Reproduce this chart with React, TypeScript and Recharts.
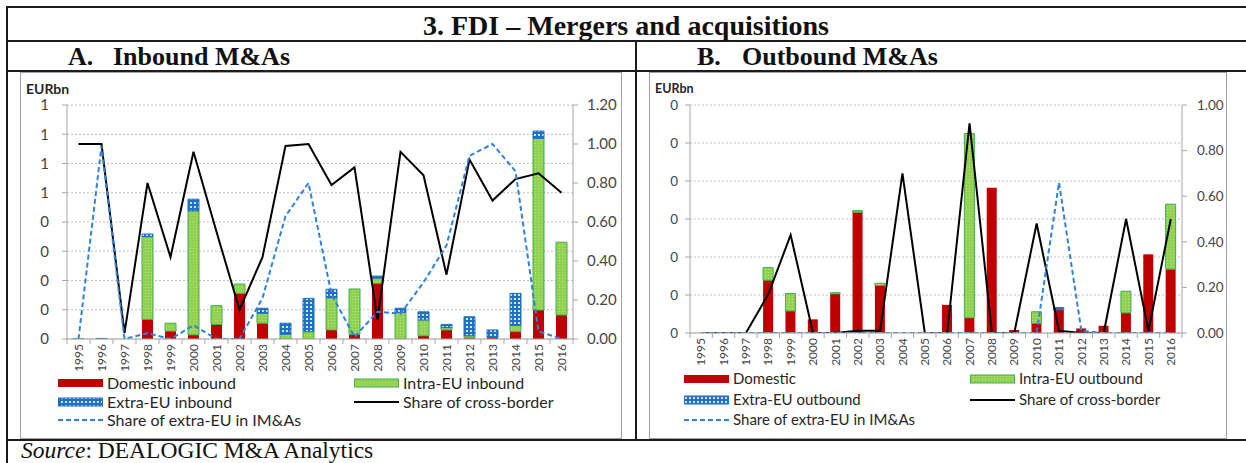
import React from "react";
import { ComposedChart, Bar, Line, XAxis, YAxis, CartesianGrid } from "recharts";

const YEARS = [
  "1995", "1996", "1997", "1998", "1999", "2000", "2001", "2002", "2003", "2004", "2005",
  "2006", "2007", "2008", "2009", "2010", "2011", "2012", "2013", "2014", "2015", "2016",
];

// A. Inbound M&As
const IN_DOMESTIC = [0, 0, 0, 0.67, 0.27, 0.14, 0.5, 1.56, 0.54, 0, 0, 0.31, 0.16, 1.9, 0, 0.11, 0.31, 0.04, 0.05, 0.25, 0.99, 0.82];
const IN_INTRA = [0.02, 0, 0, 2.83, 0.27, 4.24, 0.64, 0.32, 0.34, 0.16, 0.25, 1.1, 1.55, 0.18, 0.91, 0.54, 0.08, 0.07, 0, 0.21, 5.87, 2.49];
const IN_EXTRA = [0, 0.02, 0, 0.09, 0, 0.4, 0, 0, 0.17, 0.38, 1.14, 0.29, 0, 0.07, 0.14, 0.28, 0.11, 0.65, 0.26, 1.1, 0.25, 0];
const IN_CROSS = [1.0, 1.0, 0.03, 0.8, 0.42, 0.96, 0.55, 0.15, 0.42, 0.99, 1.0, 0.79, 0.88, 0.1, 0.96, 0.84, 0.33, 0.92, 0.71, 0.82, 0.85, 0.75];
const IN_EXTRA_SHARE = [0, 0.99, 0, 0.03, 0, 0.07, 0, 0, 0.21, 0.63, 0.8, 0.23, 0.01, 0.14, 0.13, 0.29, 0.48, 0.94, 1.0, 0.86, 0.04, 0];
const IN_LEFT_LABELS = ["0", "0", "0", "0", "0", "1", "1", "1", "1"];
const IN_RIGHT_TICKS = [0, 0.2, 0.4, 0.6, 0.8, 1.0, 1.2];

// B. Outbound M&As
const OUT_DOMESTIC = [0, 0, 0, 1.39, 0.58, 0.36, 1.03, 3.18, 1.25, 0, 0, 0.74, 0.4, 3.82, 0.08, 0.25, 0.61, 0.12, 0.19, 0.53, 2.07, 1.68];
const OUT_INTRA = [0, 0, 0, 0.33, 0.46, 0, 0.03, 0.04, 0.06, 0, 0, 0, 4.85, 0, 0, 0.31, 0, 0, 0, 0.57, 0, 1.71];
const OUT_EXTRA = [0, 0, 0, 0, 0, 0, 0, 0, 0, 0, 0, 0, 0, 0, 0, 0, 0.06, 0, 0, 0, 0, 0];
const OUT_CROSS = [0, 0, 0, 0.17, 0.43, 0, 0, 0.01, 0.01, 0.7, 0, 0, 0.92, 0, 0, 0.48, 0.01, 0, 0, 0.5, 0.01, 0.5];
const OUT_EXTRA_SHARE = [0, 0, 0, 0, 0, 0, 0, 0, 0, 0, 0, 0, 0, 0, 0, 0, 0.66, 0.01, 0, 0, 0, 0];
const OUT_LEFT_LABELS = ["0", "0", "0", "0", "0", "0", "0"];
const OUT_RIGHT_TICKS = [0, 0.2, 0.4, 0.6, 0.8, 1.0];

const RED = "#c00000";
const GREEN = "#92d050";
const GREEN_EDGE = "#3cb04a";
const BLUE = "#1f6fc4";
const DASH_BLUE = "#2e83d9";
const AXIS = "#a6a6a6";
const GRID = "#bfbfbf";
const TICK_TEXT = "#454545";
const FRAME = "#1c1c1c";
const FONT = "Lato, 'Noto Sans', sans-serif";
const SERIF = "'Liberation Serif', 'Times New Roman', serif";

interface Row {
  year: string;
  domestic: number;
  intra: number;
  extra: number;
  cross: number;
  share: number;
}

function buildRows(dom: number[], intra: number[], extra: number[], cross: number[], share: number[]): Row[] {
  return YEARS.map((year, i) => ({
    year,
    domestic: dom[i],
    intra: intra[i],
    extra: extra[i],
    cross: cross[i],
    share: share[i],
  }));
}

const inboundRows = buildRows(IN_DOMESTIC, IN_INTRA, IN_EXTRA, IN_CROSS, IN_EXTRA_SHARE);
const outboundRows = buildRows(OUT_DOMESTIC, OUT_INTRA, OUT_EXTRA, OUT_CROSS, OUT_EXTRA_SHARE);

function patternDefs(p: string) {
  return (
    <defs>
      <pattern id={`${p}-blue`} width={4} height={4} patternUnits="userSpaceOnUse">
        <rect width={4} height={4} fill={BLUE} />
        <circle cx={2} cy={2} r={1.1} fill="#ffffff" />
      </pattern>
      <pattern id={`${p}-green`} width={3} height={3} patternUnits="userSpaceOnUse">
        <rect width={3} height={3} fill={GREEN} />
        <rect x={1} y={1} width={1} height={1} fill="#b9e08c" />
      </pattern>
    </defs>
  );
}

interface PanelProps {
  rows: Row[];
  p: string;
  width: number;
  height: number;
  marginLeft: number;
  leftWidth: number;
  rightWidth: number;
  leftLabels: string[];
  rightTicks: number[];
  barSize: number;
  band: number;
  fs: number;
  leftTickMargin: number;
  rightTickMargin: number;
}

function Panel(c: PanelProps) {
  const leftTicks = c.leftLabels.map((_, i) => i);
  const rightMax = c.rightTicks[c.rightTicks.length - 1];

  // eslint-disable-next-line @typescript-eslint/no-explicit-any
  const YearTick = (props: any) => {
    const { x, y, payload, index } = props;
    const axisY = y - 5;
    return (
      <g>
        <line x1={x + c.band / 2} y1={axisY} x2={x + c.band / 2} y2={axisY + 5} stroke={AXIS} />
        {index === 0 && <line x1={x - c.band / 2} y1={axisY} x2={x - c.band / 2} y2={axisY + 5} stroke={AXIS} />}
        <text
          x={x}
          y={y}
          transform={`rotate(-90 ${x} ${y})`}
          textAnchor="end"
          dy="0.35em"
          fontSize={12}
          fontFamily={FONT}
          fill={TICK_TEXT}
        >
          {payload.value}
        </text>
      </g>
    );
  };

  return (
    <ComposedChart
      width={c.width}
      height={c.height}
      data={c.rows}
      margin={{ top: 32, right: 0, bottom: 0, left: c.marginLeft }}
    >
      {patternDefs(c.p)}
      <CartesianGrid yAxisId="left" vertical={false} stroke={GRID} strokeDasharray="2 2" />
      <XAxis
        dataKey="year"
        interval={0}
        height={34}
        tickSize={0}
        tickMargin={5}
        tickLine={false}
        stroke={AXIS}
        tick={YearTick}
      />
      <YAxis
        yAxisId="left"
        domain={[0, c.leftLabels.length - 1]}
        ticks={leftTicks}
        width={c.leftWidth}
        tickSize={5}
        tickMargin={c.leftTickMargin}
        stroke={AXIS}
        tick={{ fill: TICK_TEXT, fontSize: c.fs, fontFamily: FONT }}
        tickFormatter={(v: number) => c.leftLabels[v]}
        allowDataOverflow
      />
      <YAxis
        yAxisId="right"
        orientation="right"
        domain={[0, rightMax]}
        ticks={c.rightTicks}
        width={c.rightWidth}
        tickSize={5}
        tickMargin={c.rightTickMargin}
        stroke={AXIS}
        tick={{ fill: TICK_TEXT, fontSize: c.fs, fontFamily: FONT }}
        tickFormatter={(v: number) => v.toFixed(2)}
        allowDataOverflow
      />
      <Bar yAxisId="left" dataKey="domestic" stackId="m" fill={RED} barSize={c.barSize} isAnimationActive={false} />
      <Bar
        yAxisId="left"
        dataKey="intra"
        stackId="m"
        fill={`url(#${c.p}-green)`}
        stroke={GREEN_EDGE}
        strokeWidth={1}
        barSize={c.barSize}
        isAnimationActive={false}
      />
      <Bar
        yAxisId="left"
        dataKey="extra"
        stackId="m"
        fill={`url(#${c.p}-blue)`}
        stroke={BLUE}
        strokeWidth={1}
        barSize={c.barSize}
        isAnimationActive={false}
      />
      <Line
        yAxisId="right"
        type="linear"
        dataKey="cross"
        stroke="#000000"
        strokeWidth={2}
        dot={false}
        activeDot={false}
        isAnimationActive={false}
      />
      <Line
        yAxisId="right"
        type="linear"
        dataKey="share"
        stroke={DASH_BLUE}
        strokeWidth={2}
        strokeDasharray="5 3"
        dot={false}
        activeDot={false}
        isAnimationActive={false}
      />
    </ComposedChart>
  );
}

type Kind = "domestic" | "intra" | "extra" | "cross" | "share";

function LegendItem({ x, y, kind, label, fs }: { x: number; y: number; kind: Kind; label: string; fs: number }) {
  let swatch: React.ReactNode = null;
  if (kind === "domestic") swatch = <rect x={x} y={y - 4} width={45} height={8} fill={RED} />;
  if (kind === "intra")
    swatch = <rect x={x + 0.5} y={y - 4} width={44} height={8} fill="url(#lg-green)" stroke={GREEN_EDGE} />;
  if (kind === "extra")
    swatch = <rect x={x + 0.5} y={y - 4} width={44} height={8} fill="url(#lg-blue)" stroke={BLUE} />;
  if (kind === "cross") swatch = <line x1={x} y1={y} x2={x + 45} y2={y} stroke="#000" strokeWidth={2} />;
  if (kind === "share")
    swatch = <line x1={x} y1={y} x2={x + 45} y2={y} stroke={DASH_BLUE} strokeWidth={2} strokeDasharray="5 3" />;
  return (
    <g>
      {swatch}
      <text x={x + 49} y={y} dy="0.35em" fontSize={fs} fontFamily={FONT} fill="#262626">
        {label}
      </text>
    </g>
  );
}

function Frame() {
  const bold = { fontFamily: SERIF, fontWeight: 700, fill: "#111" } as const;
  return (
    <svg width={1246} height={463} style={{ position: "absolute", left: 0, top: 0 }}>
      {patternDefs("lg")}
      <rect x={0} y={0} width={1246} height={463} fill="#ffffff" />
      {/* table rules */}
      <rect x={6} y={6} width={1240} height={2} fill={FRAME} />
      <rect x={6} y={6} width={2} height={457} fill={FRAME} />
      <rect x={6} y={40} width={1240} height={2} fill={FRAME} />
      <rect x={6} y={70} width={1240} height={2} fill={FRAME} />
      <rect x={6} y={439} width={1240} height={2} fill={FRAME} />
      <rect x={635} y={40} width={2} height={400} fill={FRAME} />
      <text x={626} y={35} textAnchor="middle" fontSize={28} {...bold}>
        3. FDI – Mergers and acquisitions
      </text>
      <text x={68} y={65} fontSize={26} {...bold}>A.</text>
      <text x={113} y={65} fontSize={26} {...bold}>Inbound M&amp;As</text>
      <text x={697} y={65} fontSize={26} {...bold}>B.</text>
      <text x={742} y={65} fontSize={26} {...bold}>Outbound M&amp;As</text>
      {/* chart boxes */}
      <rect x={20.5} y={72.5} width={601} height={366} fill="none" stroke="#a0a0a0" />
      <rect x={649.5} y={72.5} width={577} height={366} fill="none" stroke="#a0a0a0" />
      <text x={26} y={89} dy="0.35em" fontSize={14} fontWeight={700} fontFamily={FONT} fill="#262626">EURbn</text>
      <text x={655} y={89} dy="0.35em" fontSize={12.5} fontWeight={700} fontFamily={FONT} fill="#262626">EURbn</text>
      {/* legend A */}
      <LegendItem x={58} y={383} kind="domestic" label="Domestic inbound" fs={16} />
      <LegendItem x={354} y={383} kind="intra" label="Intra-EU inbound" fs={16} />
      <LegendItem x={58} y={402} kind="extra" label="Extra-EU inbound" fs={16} />
      <LegendItem x={354} y={402} kind="cross" label="Share of cross-border" fs={16} />
      <LegendItem x={58} y={420} kind="share" label="Share of extra-EU in IM&As" fs={16} />
      {/* legend B */}
      <LegendItem x={684} y={379} kind="domestic" label="Domestic" fs={15} />
      <LegendItem x={970} y={379} kind="intra" label="Intra-EU outbound" fs={15} />
      <LegendItem x={684} y={400} kind="extra" label="Extra-EU outbound" fs={15} />
      <LegendItem x={970} y={400} kind="cross" label="Share of cross-border" fs={15} />
      <LegendItem x={684} y={420} kind="share" label="Share of extra-EU in IM&As" fs={15} />
      <text x={21} y={458} fontSize={23.5} fontFamily={SERIF} fill="#111">
        <tspan fontStyle="italic">Source</tspan>: DEALOGIC M&amp;A Analytics
      </text>
    </svg>
  );
}

export default function App() {
  return (
    <div style={{ position: "absolute", left: 0, top: 0, width: 1246, height: 463, background: "#fff", overflow: "hidden" }}>
      <Frame />
      <div style={{ position: "absolute", left: 21, top: 73 }}>
        <Panel
          rows={inboundRows}
          p="pa"
          width={600}
          height={300}
          marginLeft={16}
          leftWidth={30}
          rightWidth={48}
          leftLabels={IN_LEFT_LABELS}
          rightTicks={IN_RIGHT_TICKS}
          barSize={11}
          band={23}
          fs={15}
          leftTickMargin={13}
          rightTickMargin={9}
        />
      </div>
      <div style={{ position: "absolute", left: 650, top: 73 }}>
        <Panel
          rows={outboundRows}
          p="pb"
          width={576}
          height={294}
          marginLeft={12}
          leftWidth={28}
          rightWidth={44}
          leftLabels={OUT_LEFT_LABELS}
          rightTicks={OUT_RIGHT_TICKS}
          barSize={10}
          band={22.35}
          fs={13.5}
          leftTickMargin={7}
          rightTickMargin={10}
        />
      </div>
    </div>
  );
}
